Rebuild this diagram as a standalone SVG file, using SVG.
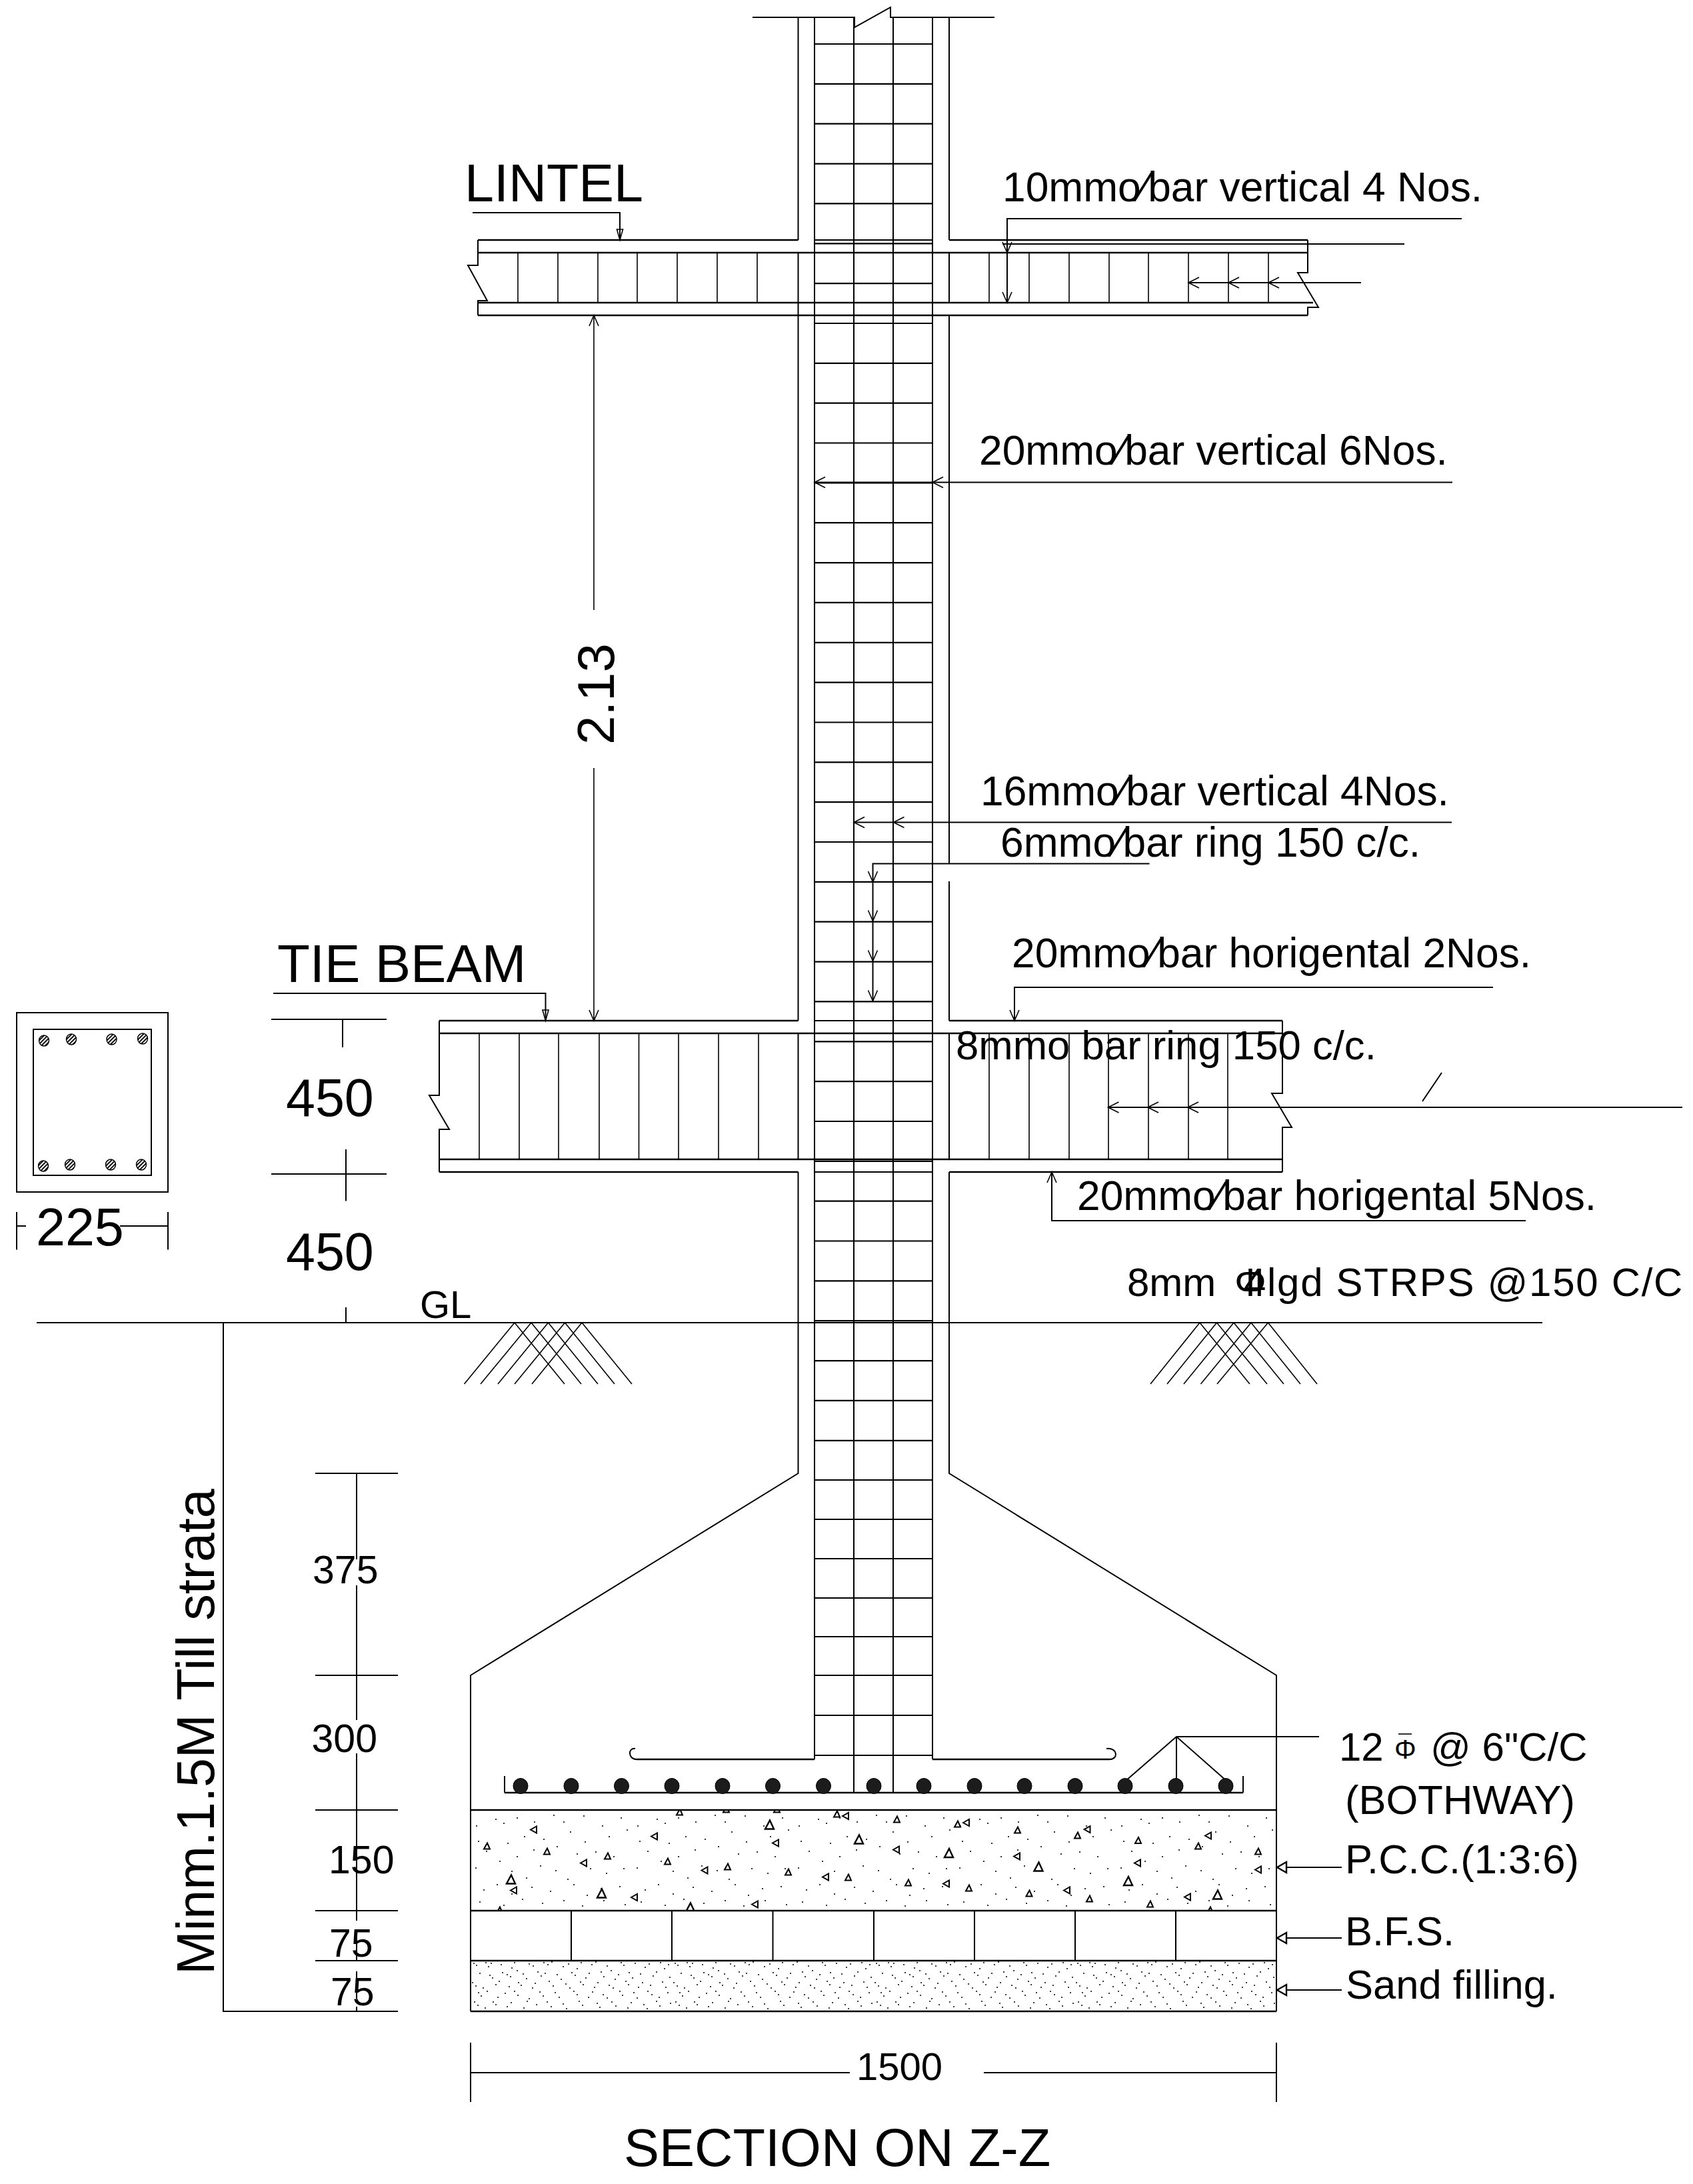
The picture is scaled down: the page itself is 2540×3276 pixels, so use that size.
<svg xmlns="http://www.w3.org/2000/svg" width="2540" height="3276" viewBox="0 0 2540 3276">
<style>
text{font-family:"Liberation Sans",Arial,sans-serif;fill:#000}
.s62{font-size:62.3px}.s60{font-size:61.5px}.s78{font-size:79px}.s59{font-size:59px}
.l{fill:none;stroke:#000;stroke-width:2}
.t{fill:none;stroke:#000;stroke-width:1.6}
.h{fill:none;stroke:#000;stroke-width:2.6}
.k{fill:none;stroke:#000;stroke-width:2.2}
.a{fill:none;stroke:#000;stroke-width:1.6}
.tri{fill:#fff;stroke:#000;stroke-width:2}
.trl{fill:#fff;stroke:#000;stroke-width:2.4}
.big{fill:#1c1c1c;stroke:#000;stroke-width:1}
.sm{fill:url(#hatch);stroke:#000;stroke-width:1.4}
</style>
<defs>
<path id="al" d="M16 -8L0 0L16 8" class="a"/>
<path id="ad" d="M-7 -16L0 0L7 -16" class="a"/>
<path id="au" d="M-7 16L0 0L7 16" class="a"/>
<path id="tl" d="M0 0L14 -8V8Z" class="trl"/>
<path id="td" d="M0 0L-4.5 -16H4.5Z" class="a"/>
<path id="tu" d="M1 -5L5 4H-4Z" class="tri"/>
<path id="tb" d="M1 -7L7 6H-6Z" class="trl"/>
<path id="tt" d="M-5 0L4 -5V5Z" class="tri"/>
<pattern id="hatch" width="4" height="4" patternUnits="userSpaceOnUse" patternTransform="rotate(-45)">
<rect width="4" height="4" fill="#fff"/><rect width="4" height="2" fill="#111"/>
</pattern>
<pattern id="pccdots" x="706" y="2715" width="242" height="151" patternUnits="userSpaceOnUse">
<path fill="none" stroke="#000" stroke-width="2" stroke-linecap="round" d="M9 24h.1M38 14h.1M50 20h.1M70 12h.1M96 18h.1M125 8h.1M140 18h.1M170 9h.1M198 24h.1M226 12h.1M235 30h.1M12 47h.1M56 50h.1M81 40h.1M110 44h.1M150 33h.1M172 48h.1M208 40h.1M24 62h.1M44 77h.1M70 70h.1M95 60h.1M130 55h.1M160 66h.1M188 63h.1M215 70h.1M8 87h.1M62 92h.1M84 102h.1M105 84h.1M128 91h.1M146 104h.1M180 88h.1M204 95h.1M230 88h.1M20 120h.1M40 112h.1M62 126h.1M92 116h.1M120 122h.1M155 112h.1M175 128h.1M196 118h.1M224 115h.1M14 138h.1M50 143h.1M78 134h.1M108 140h.1M140 136h.1M168 144h.1M200 136h.1M232 142h.1"/>
</pattern>
<pattern id="sanddots" x="706" y="2941" width="302" height="76" patternUnits="userSpaceOnUse">
<path fill="none" stroke="#000" stroke-width="1.9" stroke-linecap="round" d="M5 4h.1M9 7h.1M23 3h.1M27 9h.1M31 4h.1M46 6h.1M62 11h.1M66 3h.1M70 15h.1M88 5h.1M94 8h.1M110 3h.1M116 6h.1M122 2h.1M139 9h.1M147 5h.1M160 12h.1M166 3h.1M182 6h.1M188 2h.1M205 8h.1M211 15h.1M226 3h.1M230 7h.1M247 4h.1M262 10h.1M268 5h.1M285 3h.1M291 12h.1M297 6h.1M14 19h.1M29 22h.1M33 26h.1M48 18h.1M55 21h.1M60 24h.1M79 20h.1M84 27h.1M101 17h.1M106 23h.1M112 19h.1M130 21h.1M136 28h.1M152 18h.1M157 22h.1M173 26h.1M178 19h.1M196 17h.1M200 24h.1M217 28h.1M222 21h.1M238 18h.1M243 26h.1M255 20h.1M274 23h.1M279 17h.1M299 25h.1M3 33h.1M8 38h.1M19 41h.1M38 36h.1M43 31h.1M58 39h.1M72 33h.1M76 37h.1M93 41h.1M97 34h.1M118 31h.1M124 38h.1M143 35h.1M149 41h.1M165 32h.1M169 36h.1M186 40h.1M191 33h.1M208 37h.1M214 41h.1M233 31h.1M237 36h.1M252 40h.1M258 33h.1M270 37h.1M288 32h.1M293 40h.1M12 48h.1M16 53h.1M25 46h.1M41 55h.1M52 49h.1M66 46h.1M71 52h.1M88 57h.1M104 47h.1M109 53h.1M127 48h.1M133 55h.1M155 46h.1M160 51h.1M177 55h.1M183 47h.1M199 51h.1M205 56h.1M224 46h.1M228 52h.1M245 48h.1M250 56h.1M266 46h.1M272 51h.1M283 55h.1M296 48h.1M6 62h.1M11 67h.1M22 71h.1M34 62h.1M38 66h.1M55 69h.1M61 63h.1M80 71h.1M85 61h.1M99 66h.1M115 62h.1M121 69h.1M139 65h.1M144 72h.1M163 61h.1M168 67h.1M190 64h.1M194 70h.1M212 62h.1M218 68h.1M236 71h.1M241 63h.1M260 66h.1M265 72h.1M279 61h.1M284 68h.1M300 64h.1"/>
</pattern>
<clipPath id="pccclip"><rect x="706" y="2715" width="1209" height="151"/></clipPath>
</defs>
<rect width="2540" height="3276" fill="#fff"/>

<g id="column">
<path class="l" d="M1129 26H1282V41L1336 11V26H1492"/>
<path class="l" d="M1197.5 26V360M1197.5 379V1531M1197.5 1550V1739M1197.5 1758V2210L706 2513V3017"/>
<path class="l" d="M1424 26V360M1424 379V454M1424 473V1295M1424 1322V1531M1424 1550V1739M1424 1758V2210L1915 2513V3017"/>
</g>
<g id="cage">
<path class="l" d="M1222 26V2639M1399 26V2639M1281 26V2689M1340 26V2689"/>
<path class="k" d="M1222 66H1399M1222 125.9H1399M1222 185.7H1399M1222 245.6H1399M1222 305.4H1399M1222 360H1399M1222 365.3H1399M1222 425.1H1399M1222 485H1399M1222 544.8H1399M1222 604.7H1399M1222 664.5H1399M1222 724.4H1399M1222 784.2H1399M1222 844.1H1399M1222 903.9H1399M1222 963.8H1399M1222 1023.6H1399M1222 1083.5H1399M1222 1143.3H1399M1222 1203.2H1399M1222 1263H1399M1222 1322.9H1399M1222 1382.7H1399M1222 1442.6H1399M1222 1502.4H1399M1222 1531H1399M1222 1562.3H1399M1222 1622.1H1399M1222 1682H1399M1222 1741.8H1399M1222 1758H1399M1222 1801.7H1399M1222 1861.5H1399M1222 1921.4H1399M1222 1981.2H1399M1222 2041.1H1399M1222 2100.9H1399M1222 2160.8H1399M1222 2220H1399M1222 2279H1399M1222 2338H1399M1222 2397H1399M1222 2455H1399M1222 2513H1399M1222 2573H1399M1222 2633H1399"/>
</g>
<g id="lintel">
<path class="h" d="M717 360H1197.5M1424 360H1962M717 379H1962M717 454H1970M717 473H1962"/>
<path class="l" d="M717 360V398H702L731 451H717V473M1962 360V409H1947L1978 461H1962V473"/>
<path class="t" d="M777 379V454M837 379V454M897 379V454M956 379V454M1016 379V454M1076 379V454M1136 379V454M1484 379V454M1544 379V454M1604 379V454M1664 379V454M1723 379V454M1783 379V454M1843 379V454M1903 379V454"/>
</g>
<g id="tie-beam">
<path class="h" d="M659 1531H1197.5M1424 1531H1924M659 1550H1924M659 1739H1924M659 1758H1197.5M1424 1758H1924"/>
<path class="l" d="M659 1531V1643H644L674 1694H659V1758M1924 1531V1640H1908L1938 1691H1924V1758"/>
<path class="t" d="M719 1550V1739M779 1550V1739M838 1550V1739M899 1550V1739M958.5 1550V1739M1018 1550V1739M1078 1550V1739M1138 1550V1739M1484 1550V1739M1544 1550V1739M1604 1550V1739M1663 1550V1739M1723 1550V1739M1783 1550V1739M1842 1550V1739"/>
</g>
<g id="ground">
<path class="l" d="M55 1984H2314"/>
<path class="t" d="M772 1984L696.5 2076M797 1984L721 2076M822.5 1984L747 2076M847.5 1984L772 2076M873 1984L798 2076M772 1984L847 2076M797 1984L872 2076M822.5 1984L897 2076M847.5 1984L922 2076M873 1984L948 2076"/>
<path class="t" d="M1800 1984L1726 2076M1825.5 1984L1751 2076M1851 1984L1776 2076M1877 1984L1801.5 2076M1902.5 1984L1826 2076M1800 1984L1875 2076M1825.5 1984L1901 2076M1851 1984L1926 2076M1877 1984L1951 2076M1902.5 1984L1976 2076"/>
</g>
<g id="footing">
<path class="h" d="M955 2639H1222M1399 2639H1665M757 2689H1865"/>
<path class="l" d="M955 2639C942 2639 942 2621 953 2623M1665 2639C1678 2639 1677 2621 1660 2623M757 2689V2664M1865 2689V2664"/>
<g class="big"><ellipse cx="781" cy="2679" rx="11" ry="11.5"/><ellipse cx="857" cy="2679" rx="11" ry="11.5"/><ellipse cx="932.5" cy="2679" rx="11" ry="11.5"/><ellipse cx="1008" cy="2679" rx="11" ry="11.5"/><ellipse cx="1084" cy="2679" rx="11" ry="11.5"/><ellipse cx="1159.5" cy="2679" rx="11" ry="11.5"/><ellipse cx="1235.5" cy="2679" rx="11" ry="11.5"/><ellipse cx="1311" cy="2679" rx="11" ry="11.5"/><ellipse cx="1386" cy="2679" rx="11" ry="11.5"/><ellipse cx="1462" cy="2679" rx="11" ry="11.5"/><ellipse cx="1537" cy="2679" rx="11" ry="11.5"/><ellipse cx="1613" cy="2679" rx="11" ry="11.5"/><ellipse cx="1688" cy="2679" rx="11" ry="11.5"/><ellipse cx="1764" cy="2679" rx="11" ry="11.5"/><ellipse cx="1839" cy="2679" rx="11" ry="11.5"/></g>
</g>
<g id="pcc">
<rect x="706" y="2715" width="1209" height="151" fill="url(#pccdots)"/>
<g clip-path="url(#pccclip)"><g transform="translate(0,-1.5)">
<use href="#tu" x="730" y="2771"/><use href="#tu" x="820" y="2779"/><use href="#tu" x="911" y="2786"/><use href="#tu" x="1001" y="2794"/><use href="#tu" x="1091" y="2802"/><use href="#tu" x="1255" y="2723"/><use href="#tu" x="1345" y="2731"/><use href="#tu" x="1436" y="2738"/><use href="#tu" x="1526" y="2747"/><use href="#tu" x="1616" y="2755"/><use href="#tu" x="1182" y="2810"/><use href="#tu" x="1272" y="2818"/><use href="#tu" x="1362" y="2826"/><use href="#tu" x="1453" y="2834"/><use href="#tu" x="1543.5" y="2842"/><use href="#tu" x="1634" y="2850"/><use href="#tu" x="1019" y="2720"/><use href="#tu" x="749" y="2867"/><use href="#tu" x="1707" y="2762.5"/><use href="#tu" x="1797" y="2771"/><use href="#tu" x="1887" y="2779"/><use href="#tu" x="1725" y="2858"/><use href="#tu" x="1815" y="2867"/><use href="#tu" x="1089" y="2716"/><use href="#tu" x="1165" y="2716"/>
<use href="#tb" x="766" y="2821"/><use href="#tb" x="902" y="2842"/><use href="#tb" x="1154" y="2739"/><use href="#tb" x="1288" y="2761"/><use href="#tb" x="1423" y="2781.5"/><use href="#tb" x="1557.5" y="2802"/><use href="#tb" x="1035" y="2863"/><use href="#tb" x="1692" y="2823.5"/><use href="#tb" x="1826" y="2844"/>
<use href="#tt" x="801" y="2746"/><use href="#tt" x="982" y="2756"/><use href="#tt" x="1164" y="2766"/><use href="#tt" x="1345" y="2776"/><use href="#tt" x="1526" y="2786"/><use href="#tt" x="876" y="2796"/><use href="#tt" x="1057.5" y="2807"/><use href="#tt" x="1239" y="2817"/><use href="#tt" x="1420" y="2827"/><use href="#tt" x="1601" y="2837"/><use href="#tt" x="771" y="2837"/><use href="#tt" x="952" y="2847.5"/><use href="#tt" x="1133" y="2858"/><use href="#tt" x="1269" y="2725.5"/><use href="#tt" x="1450" y="2735.5"/><use href="#tt" x="1631.5" y="2745.6"/><use href="#tt" x="1813" y="2755"/><use href="#tt" x="1707" y="2796"/><use href="#tt" x="1888" y="2806"/><use href="#tt" x="1782" y="2847"/>
</g></g>
</g>
<g id="brick">
<path class="l" d="M857 2866V2941M1008 2866V2941M1159.5 2866V2941M1311 2866V2941M1462 2866V2941M1613 2866V2941M1764 2866V2941"/>
</g>
<g id="sand">
<rect x="706" y="2941" width="1209" height="76" fill="url(#sanddots)"/>
</g>
<path class="h" d="M706 2715H1915M706 2866H1915M706 2941H1915M706 3017H1915"/>
<g id="section-detail">
<rect class="l" x="25" y="1519" width="227" height="269"/>
<rect class="l" x="50" y="1544" width="177" height="219"/>
<ellipse class="sm" cx="66" cy="1561" rx="7.5" ry="8"/><ellipse class="sm" cx="107" cy="1559" rx="7.5" ry="8"/><ellipse class="sm" cx="167.5" cy="1559" rx="7.5" ry="8"/><ellipse class="sm" cx="214" cy="1558" rx="7.5" ry="8"/>
<ellipse class="sm" cx="65" cy="1749" rx="7.5" ry="8"/><ellipse class="sm" cx="105" cy="1747" rx="7.5" ry="8"/><ellipse class="sm" cx="166" cy="1747" rx="7.5" ry="8"/><ellipse class="sm" cx="212" cy="1747" rx="7.5" ry="8"/>
</g>
<g id="connectors">
<path class="l" d="M709 319H930V360"/><use href="#td" x="930" y="360"/>
<path class="t" d="M891 473V915M891 1152V1531"/><use href="#au" x="891" y="473"/><use href="#ad" x="891" y="1531"/>
<path class="l" d="M2193 328H1511V379M1504 366H2107M1511 379V454M1783 424H2042"/>
<use href="#ad" x="1511" y="379"/><use href="#ad" x="1511" y="454"/>
<use href="#al" x="1783" y="424"/><use href="#al" x="1843" y="424"/><use href="#al" x="1903" y="424"/>
<path class="l" d="M1222 723.5H2179"/><use href="#al" x="1222" y="723.5"/><use href="#al" x="1399" y="723.5"/>
<path class="l" d="M1281 1233.5H2178"/><use href="#al" x="1281" y="1233.5"/><use href="#al" x="1340.5" y="1233.5"/>
<path class="l" d="M1724.5 1295.5H1309.5V1501.5"/><use href="#ad" x="1309.5" y="1323"/><use href="#ad" x="1309.5" y="1381.5"/><use href="#ad" x="1309.5" y="1441.5"/><use href="#ad" x="1309.5" y="1501.5"/>
<path class="l" d="M2240 1481H1522V1531"/><use href="#ad" x="1522" y="1531"/>
<path class="l" d="M1662.5 1661H2524M2163 1609L2134 1652"/><use href="#al" x="1662.5" y="1661"/><use href="#al" x="1722" y="1661"/><use href="#al" x="1782" y="1661"/>
<path class="l" d="M2289 1831H1578V1758"/><use href="#au" x="1578" y="1758"/>
<path class="l" d="M410 1490H818.5V1531"/><use href="#td" x="818.5" y="1531"/>
<path class="l" d="M1979 2605H1765M1765 2605L1692 2668.5M1765 2605V2668.5M1765 2605L1837 2668.5"/>
<path class="l" d="M2013 2801H1928M2013 2907H1928M2013 2985H1928"/><use href="#tl" x="1916" y="2801"/><use href="#tl" x="1916" y="2907"/><use href="#tl" x="1916" y="2985"/>
<path class="l" d="M407 1529H580M514 1529V1571M407 1761H580M519 1724V1801.5M519 1961V1984"/>
<path class="l" d="M25 1818V1874.5M252 1818V1874.5M25 1839H39M180 1839H252"/>
<path class="l" d="M335 1984V3017H597M535 2210V2339M535 2378V2580M535 2630V2881M535 2897V2941M535 2957V2998M473 2210H597M473 2513H597M473 2715H597M473 2866H597M473 2941H597M535 3010V3017"/>
<path class="l" d="M706 3064V3153M1915 3064V3153M706 3109H1275M1476 3109H1915"/>
</g>
<g id="labels">
<text class="s78" x="697" y="301.5">LINTEL</text>
<text class="s62" x="1504" y="301.5">10mmo⁄bar vertical 4 Nos.</text>
<text class="s62" x="1469" y="697">20mmo⁄bar vertical 6Nos.</text>
<text transform="translate(921,1117) rotate(-90)" style="font-size:78px">2.13</text>
<text class="s62" x="1471" y="1207.5">16mmo⁄bar vertical 4Nos.</text>
<text class="s62" x="1501" y="1284.5">6mmo⁄bar ring 150 c/c.</text>
<text style="font-size:80px" x="416" y="1472.5">TIE BEAM</text>
<text class="s62" x="1518" y="1451">20mmo⁄bar horigental 2Nos.</text>
<text x="1434" y="1589" style="font-size:61.7px">8mmo bar ring 150 c/c.</text>
<text class="s78" x="429" y="1674">450</text>
<text class="s78" x="54" y="1868">225</text>
<text class="s62" x="1616" y="1815">20mmo⁄bar horigental 5Nos.</text>
<text class="s78" x="429" y="1905">450</text>
<text x="630" y="1976.5" style="font-size:58px">GL</text>
<text style="font-size:60px" y="1944"><tspan x="1691">8mm </tspan><tspan x="1852">Φ</tspan><tspan x="1866" letter-spacing="1.7">4lgd STRPS @150 C/C</tspan></text>
<text transform="translate(320.5,2962) rotate(-90)" class="s78">Minm.1.5M Till strata</text>
<text class="s59" x="469" y="2375">375</text>
<text class="s59" x="467.5" y="2627.5">300</text>
<text class="s59" x="493" y="2810">150</text>
<text class="s59" x="494" y="2935">75</text>
<text class="s59" x="496" y="3008">75</text>
<text style="font-size:60px" y="2640.5"><tspan x="2009">12 </tspan><tspan x="2092" style="font-size:41px" dy="-3">Φ</tspan><tspan x="2146" dy="3">@ 6"C/C</tspan></text>
<text class="s60" x="2018" y="2721">(BOTHWAY)</text>
<text class="s60" x="2018" y="2810">P.C.C.(1:3:6)</text>
<text class="s60" x="2018" y="2917.5">B.F.S.</text>
<text class="s60" x="2019" y="2998">Sand filling.</text>
<text x="1285" y="3120" style="font-size:58px">1500</text>
<text x="936" y="3249" style="font-size:79.5px">SECTION ON Z-Z</text>
</g>
<path id="phi-bar" class="t" d="M2098 2601H2118"/>
</svg>
